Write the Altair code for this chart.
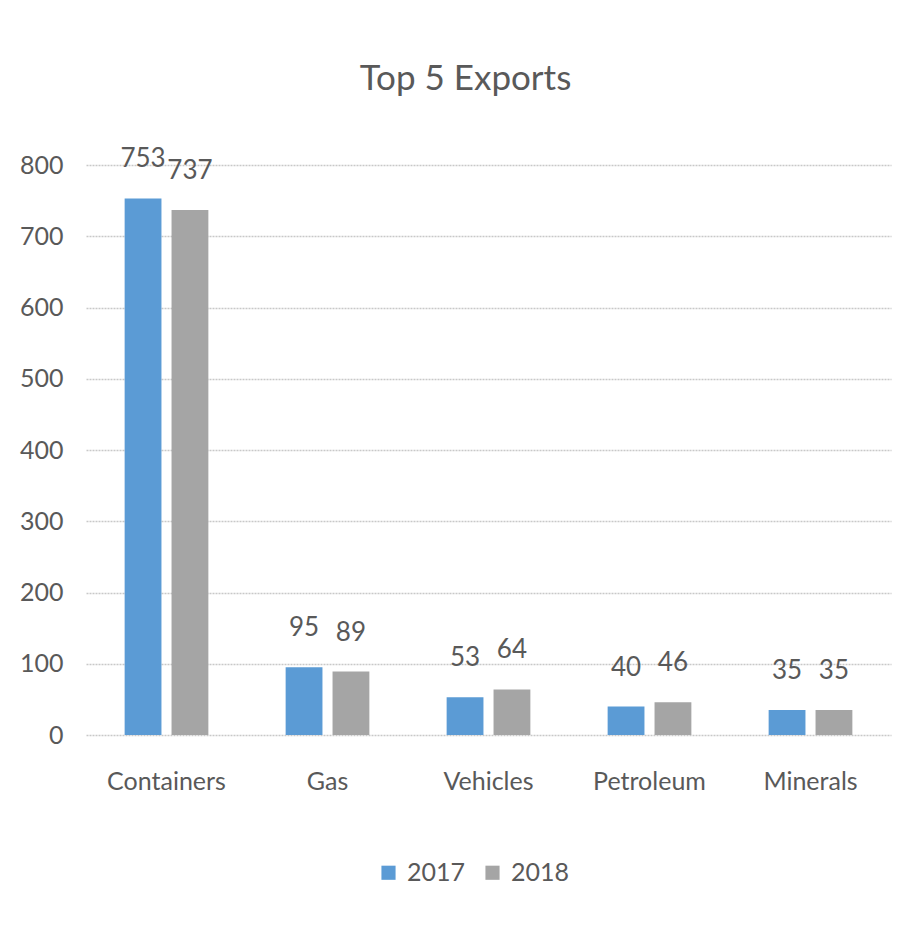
import altair as alt
import pandas as pd

categories = ["Containers", "Gas", "Vehicles", "Petroleum", "Minerals"]
years = ["2017", "2018"]
values_2017 = [753, 95, 53, 40, 35]
values_2018 = [737, 89, 64, 46, 35]

rows = []
for c, v17, v18 in zip(categories, values_2017, values_2018):
    rows.append({"category": c, "year": "2017", "value": v17})
    rows.append({"category": c, "year": "2018", "value": v18})
df = pd.DataFrame(rows)

FONT = "Lato"
TXT = "#595959"

base = alt.Chart(df).encode(
    x=alt.X(
        "category:N",
        sort=categories,
        scale=alt.Scale(paddingInner=0.48, paddingOuter=0.24),
        axis=alt.Axis(
            title=None, labelAngle=0, domain=False, ticks=False, grid=False,
            labelPadding=34, labelFontSize=25, labelColor=TXT, labelFont=FONT,
        ),
    ),
    xOffset=alt.XOffset("year:N", sort=years, scale=alt.Scale(paddingInner=0.215)),
    y=alt.Y(
        "value:Q",
        scale=alt.Scale(domain=[0, 800], nice=False),
        axis=alt.Axis(
            title=None, values=[0, 100, 200, 300, 400, 500, 600, 700, 800],
            domain=False, ticks=False, grid=True, gridColor="#C8C8C8",
            gridDash=[2, 1], gridWidth=1.5, labelPadding=23, labelFontSize=25,
            labelColor=TXT, labelFont=FONT,
        ),
    ),
)

bars = base.mark_bar().encode(
    color=alt.Color(
        "year:N",
        sort=years,
        scale=alt.Scale(domain=years, range=["#5B9BD5", "#A5A5A5"]),
        legend=alt.Legend(
            title=None, orient="none", legendX=290, legendY=695,
            direction="horizontal", symbolType="square", symbolSize=200,
            symbolStrokeWidth=0, labelFontSize=25, labelColor=TXT, labelFont=FONT,
            labelOffset=6, columnPadding=14,
        ),
    )
)

labels = base.mark_text(
    baseline="alphabetic", dy=-31, fontSize=26, color=TXT, font=FONT
).encode(text=alt.Text("value:Q"))

chart = (
    alt.layer(bars, labels)
    .properties(
        width=805,
        height=570,
        view=alt.ViewBackground(strokeWidth=0, strokeOpacity=0),
        title=alt.TitleParams(
            "Top 5 Exports", fontSize=35, font=FONT, color=TXT, fontWeight="normal",
            anchor="middle", frame="group", baseline="alphabetic", offset=21, dx=-23,
        ),
        autosize=alt.AutoSizeParams(type="none"),
        padding={"left": 78, "top": 157, "right": 1, "bottom": 178},
    )
    .configure_view(strokeWidth=0, strokeOpacity=0)
    .configure_axisX(grid=False)
    .configure(background="white")
)

chart.save("out.html", embed_options={"renderer": "svg", "actions": False})
